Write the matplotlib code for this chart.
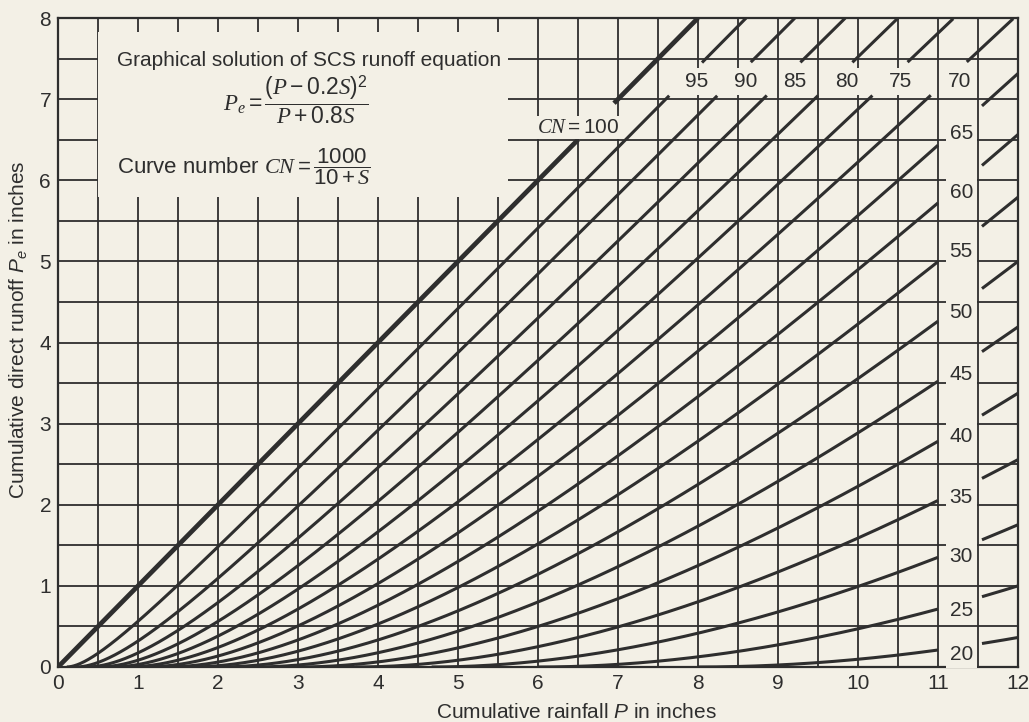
import numpy as np
import matplotlib
matplotlib.use("Agg")
import matplotlib.pyplot as plt

plt.rcParams["font.family"] = "Liberation Sans"
plt.rcParams["mathtext.fontset"] = "custom"
plt.rcParams["mathtext.rm"] = "Liberation Sans"
plt.rcParams["mathtext.it"] = "Liberation Serif:italic"
plt.rcParams["mathtext.cal"] = "Liberation Sans:italic"
plt.rcParams["mathtext.bf"] = "Liberation Sans:bold"

# curve numbers drawn on the chart
curve_numbers = [100, 95, 90, 85, 80, 75, 70, 65, 60, 55, 50, 45, 40, 35, 30, 25, 20]
top_labelled = [95, 90, 85, 80, 75, 70]
right_labelled = [65, 60, 55, 50, 45, 40, 35, 30, 25, 20]
x_ticks = list(range(0, 13))
y_ticks = list(range(0, 9))

bg = "#f3f0e6"
ink = "#2e2e2e"
fs = 15

fig = plt.figure(figsize=(10.29, 7.22), dpi=100, facecolor=bg)
ax = fig.add_axes([0.0564, 0.0762, 0.9329, 0.8988], facecolor=bg)


def runoff(p, cn):
    s = 1000.0 / cn - 10.0
    pe = (p - 0.2 * s) ** 2 / (p + 0.8 * s)
    return np.where(p > 0.2 * s, pe, 0.0)


P = np.linspace(0, 12, 1201)
for cn in curve_numbers:
    s = 1000.0 / cn - 10.0
    pe = runoff(P, cn)
    pe = np.where(P >= 0.2 * s, pe, np.nan)
    pe = np.where(pe <= 8.0, pe, np.nan)
    if cn == 100:
        pe = np.where((P > 6.5) & (P < 6.95), np.nan, pe)
        ax.plot(P, pe, color=ink, lw=3.4, zorder=2, solid_capstyle="butt")
        ax.text(6.5, 6.65, r"$CN = $" + "100", fontsize=fs, color=ink,
                ha="center", va="center", zorder=4,
                bbox=dict(boxstyle="square,pad=0.1", fc=bg, ec="none"))
        continue
    if cn in top_labelled:
        pe = np.where((pe > 7.05) & (pe < 7.45), np.nan, pe)
        xl = np.interp(7.22, np.nan_to_num(runoff(P, cn)), P) + 0.17
        ax.text(xl, 7.22, str(cn), fontsize=fs, color=ink, ha="center",
                va="center", zorder=4,
                bbox=dict(boxstyle="square,pad=0.18", fc=bg, ec="none"))
    else:
        pe = np.where((P > 11.0) & (P < 11.55), np.nan, pe)
        yl = float(runoff(np.array(11.28), cn)) - 0.1
        ax.text(11.29, yl, str(cn), fontsize=fs, color=ink, ha="center",
                va="center", zorder=4,
                bbox=dict(boxstyle="square,pad=0.18", fc=bg, ec="none"))
    ax.plot(P, pe, color=ink, lw=2.2, zorder=2, solid_capstyle="butt")

# grid at half-inch spacing
ax.set_xticks(x_ticks)
ax.set_yticks(y_ticks)
ax.set_xticks(np.arange(0, 12.5, 0.5), minor=True)
ax.set_yticks(np.arange(0, 8.5, 0.5), minor=True)
ax.grid(which="both", color=ink, lw=1.3)
ax.set_axisbelow(True)
ax.tick_params(which="both", length=0, labelsize=fs, colors=ink, pad=5)
for sp in ax.spines.values():
    sp.set_color(ink)
    sp.set_linewidth(1.6)
ax.set_xlim(0, 12)
ax.set_ylim(0, 8)

# panel with the equations
ax.add_patch(plt.Rectangle((0.5, 5.8), 5.12, 2.03, fc=bg, ec="none", zorder=1))
ax.text(0.74, 7.48, "Graphical solution of SCS runoff equation", fontsize=fs,
        color=ink, va="center", zorder=3)
ax.text(2.97, 6.99, r"$P_e = \dfrac{(P - 0.2S)^2}{P + 0.8S}$", fontsize=16.5,
        color=ink, ha="center", va="center", zorder=3)
ax.text(0.74, 6.17, r"Curve number $CN = \dfrac{1000}{10 + S}$", fontsize=16,
        color=ink, va="center", zorder=3)

ax.set_xlabel(r"Cumulative rainfall $\mathcal{P}$ in inches", fontsize=fs,
              color=ink)
ax.xaxis.set_label_coords(0.54, -0.055)
ax.set_ylabel(r"Cumulative direct runoff $\mathcal{P}_{\mathcal{e}}$ in inches",
              fontsize=fs, color=ink)
ax.yaxis.set_label_coords(-0.03, 0.52)

fig.savefig("out.png", dpi=100, facecolor=bg)
